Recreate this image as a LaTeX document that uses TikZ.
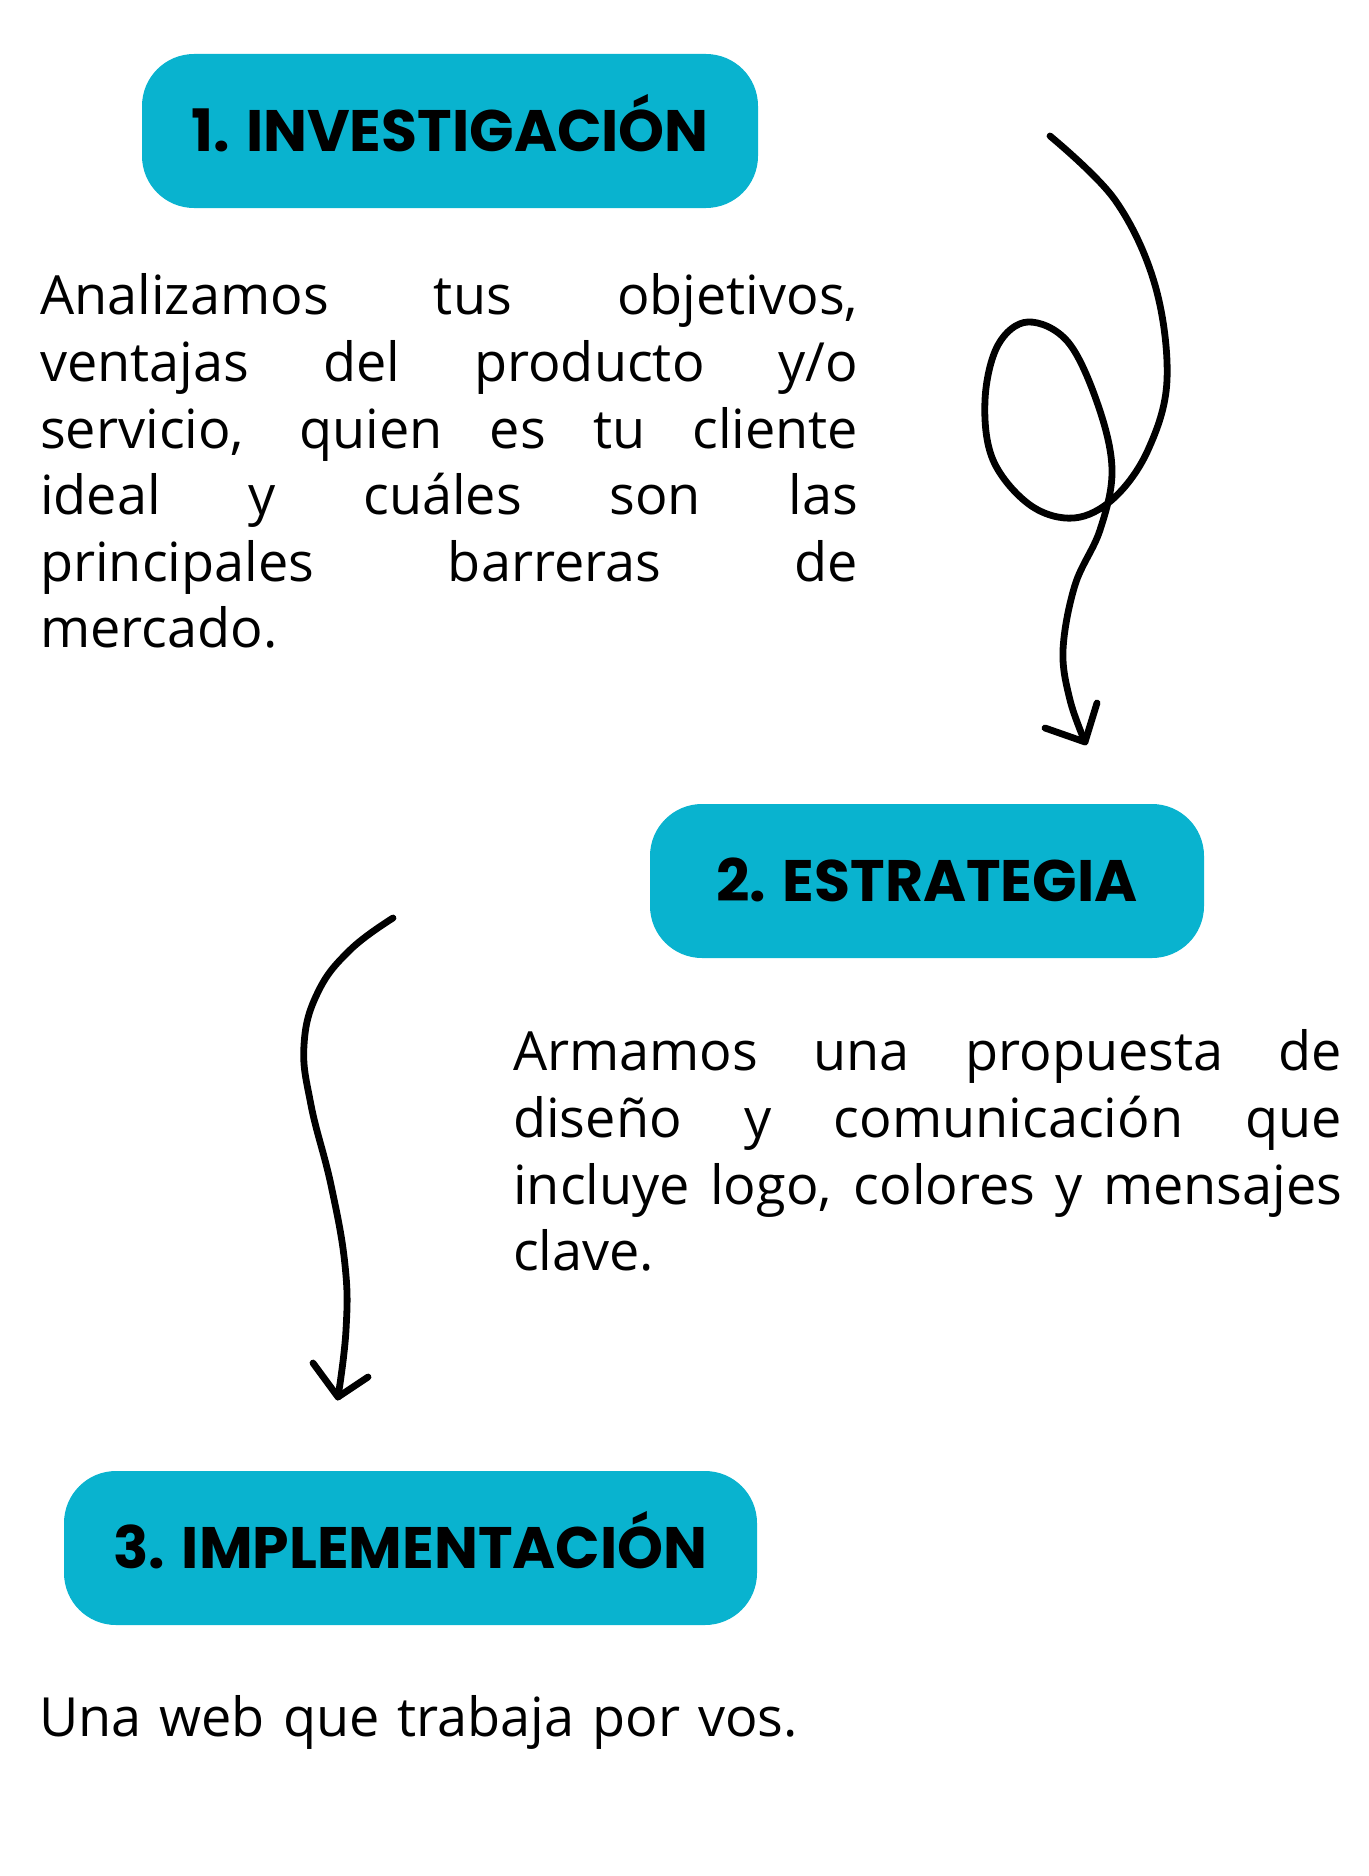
\documentclass[tikz,border=0pt]{standalone}
\usepackage{fontspec}
\setmainfont{Open Sans}
\newfontfamily\titlefont{Poppins}
\definecolor{stepblue}{HTML}{09B3CF}
\tolerance=10000
\hyphenpenalty=10000
\tikzset{
  stepbox/.style={fill=stepblue, rounded corners=52pt, minimum height=154pt, inner sep=0pt,
    text height=40pt, text depth=0pt,
    font=\titlefont\bfseries\fontsize{58.5}{62}\selectfont},
  bodytext/.style={anchor=north west, inner sep=0pt, align=justify,
    font=\fontsize{54}{66.6}\selectfont},
  stroke/.style={line width=6.8pt, line cap=round, line join=round}
}
\begin{document}
\begin{tikzpicture}[x=1pt,y=-1pt]
\useasboundingbox (0,0) rectangle (1368,1876);
% step boxes
\node[stepbox, minimum width=616pt] (paso1) at (450,131) {1. INVESTIGACIÓN};
\node[stepbox, minimum width=554pt] (paso2) at (927,881) {2. ESTRATEGIA};
\node[stepbox, minimum width=693pt] (paso3) at (410.5,1548) {3. IMPLEMENTACIÓN};
% texts
\node[bodytext, text width=818pt] (texto1) at (40,273.6) {Analizamos tus objetivos,\linebreak
  ventajas del producto y/o\linebreak servicio, quien es tu cliente\linebreak
  ideal y cuáles son las\linebreak principales barreras de\linebreak mercado.};
\node[bodytext, text width=829pt] (texto2) at (513,1029.6) {Armamos una propuesta de\linebreak
  diseño y comunicación que\linebreak incluye logo, colores y mensajes\linebreak clave.};
\node[bodytext, text width=818pt, align=left] (texto3) at (39,1695.6) {Una web que trabaja por vos.};
% arrows
\coordinate (a1start) at (1050,136);
\coordinate (a1tip) at (1085,742);
\coordinate (a1left) at (1045,728);
\coordinate (a1right) at (1097,703);
\coordinate (a2start) at (393,918);
\coordinate (a2tip) at (338,1397);
\coordinate (a2left) at (313,1363);
\coordinate (a2right) at (368,1377);
\draw[stroke] plot[smooth, tension=0.6] coordinates {(a1start) (1115,200) (1155,285) (1167,380)
  (1148,450) (1114,498) (1074,518) (1030,505) (993,460) (985,400) (998,345) (1028,322)
  (1068,342) (1098,405) (1112,470) (1100,530) (1075,585) (1063,650) (1070,700) (a1tip)};
\draw[stroke] (a1left) -- (a1tip) -- (a1right);
\draw[stroke] plot[smooth, tension=0.7] coordinates {(a2start) (350,950)
  (318,992) (304,1045) (311,1105) (331,1185) (345,1265) (346,1330) (a2tip)};
\draw[stroke] (a2left) -- (a2tip) -- (a2right);
\end{tikzpicture}
\end{document}
